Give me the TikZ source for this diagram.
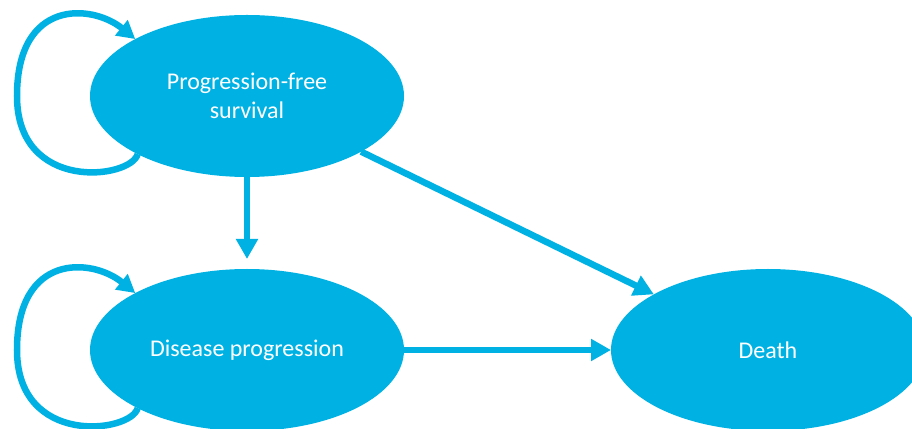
\documentclass[tikz,border=0pt]{standalone}
\usepackage{fontspec}
\setmainfont{Carlito}
\usetikzlibrary{arrows.meta,shapes.geometric}
\definecolor{stateblue}{RGB}{0,178,227}
\begin{document}
\begin{tikzpicture}[x=1pt,y=1pt,
    state/.style={ellipse,fill=stateblue,text=white,font=\fontsize{24}{29}\selectfont,
      align=center,minimum width=314pt,minimum height=162pt,inner sep=0pt,outer sep=0pt},
    trans/.style={stateblue,line width=6.5pt,-{Triangle[length=20pt,width=21pt]}},
    stay/.style={stateblue,line width=6.5pt,-{Triangle[length=18pt,width=19pt]}}]

    \clip (0,0) rectangle (912,428);

    \node[state] (PFS) at (247,332) {Progression-free\\survival};
    \node[state] (DP) at (247,78) {Disease progression};
    \node[state] (DEATH) at (768,78) {Death};

    % staying in the same state
    \foreach \s in {PFS,DP}
      \draw[stay] (\s.208) .. controls +(-7,-25) and +(0,-97) .. ([xshift=-230pt]\s.center)
        .. controls +(0,98) and +(-43,35) .. (\s.153);

    \draw[trans,shorten >=10pt] (PFS) -- (DP);
    \draw[trans] (PFS) -- (DEATH);
    \draw[trans] (DP) -- (DEATH);

\end{tikzpicture}
\end{document}
